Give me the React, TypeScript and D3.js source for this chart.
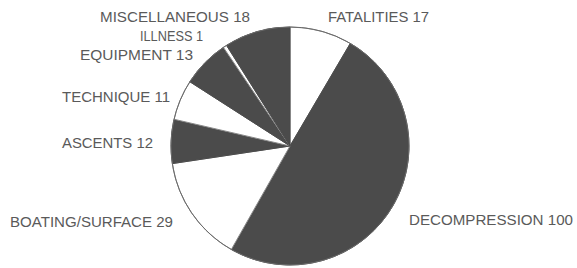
import { useEffect, useRef } from 'react';
import { select, pie, arc } from 'd3';

// accident categories, clockwise from 12 o'clock
const categories = [
  'FATALITIES',
  'DECOMPRESSION',
  'BOATING/SURFACE',
  'ASCENTS',
  'TECHNIQUE',
  'EQUIPMENT',
  'ILLNESS',
  'MISCELLANEOUS',
];
const counts = [17, 100, 29, 12, 11, 13, 1, 18];
const shaded = [false, true, false, true, false, true, false, true];

// label placement (left x, middle y, fitted width)
const labelPos = [
  [328, 17, 101],
  [409, 220, 164],
  [10, 222, 163],
  [62, 143, 91],
  [62, 97, 108],
  [80, 55, 113],
  [140, 36, 63],
  [100, 17, 150],
];

const render = (node) => {
  const cx = 290;
  const cy = 146;
  const r = 119;
  const svg = select(node);
  svg.selectAll('*').remove();

  const data = categories.map((c, i) => ({ name: c, value: counts[i], dark: shaded[i] }));
  const arcs = pie().sort(null).value((d) => d.value)(data);
  const arcGen = arc().innerRadius(0).outerRadius(r);

  const g = svg.append('g').attr('transform', `translate(${cx},${cy})`);

  g.selectAll('path')
    .data(arcs)
    .enter()
    .append('path')
    .attr('d', arcGen)
    .attr('fill', (d) => (d.data.dark ? '#4b4b4b' : '#ffffff'))
    .attr('stroke', (d) => (d.data.dark ? '#4b4b4b' : '#8a8a8a'))
    .attr('stroke-width', 1);

  // outline
  g.append('circle')
    .attr('r', r)
    .attr('fill', 'none')
    .attr('stroke', '#6a6a6a')
    .attr('stroke-width', 1);

  svg
    .append('g')
    .selectAll('text')
    .data(data)
    .enter()
    .append('text')
    .attr('x', (d, i) => labelPos[i][0])
    .attr('y', (d, i) => labelPos[i][1] + 5)
    .attr('textLength', (d, i) => labelPos[i][2])
    .attr('lengthAdjust', 'spacingAndGlyphs')
    .attr('font-family', '"Liberation Sans", Arial, sans-serif')
    .attr('font-size', 14)
    .attr('fill', '#5a5a5a')
    .text((d) => `${d.name} ${d.value}`);
};

export default function App() {
  const ref = useRef(null);
  useEffect(() => {
    render(ref.current);
  }, []);
  return (
    <svg
      ref={ref}
      width={577}
      height={268}
      style={{ position: 'absolute', left: 0, top: 0, background: '#fff' }}
    />
  );
}
